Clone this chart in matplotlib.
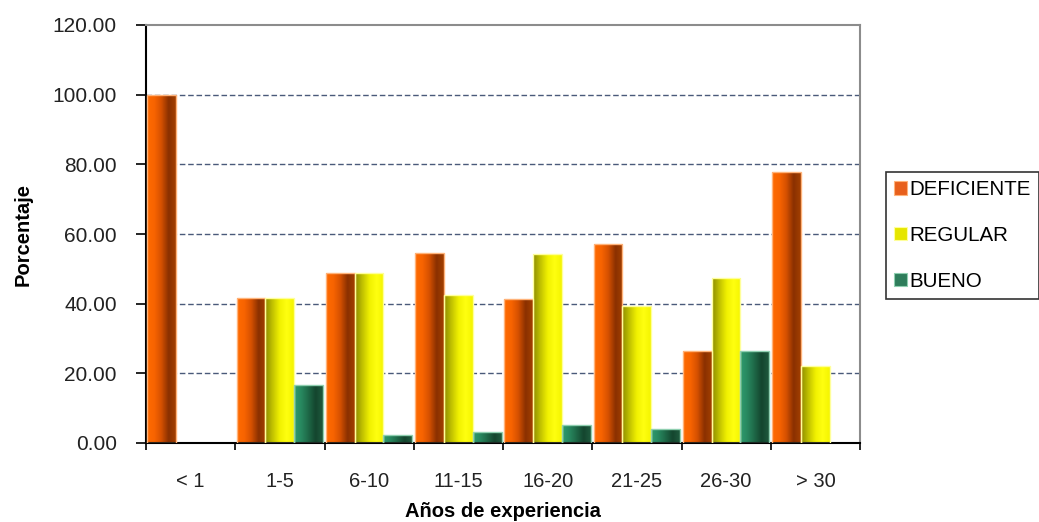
import numpy as np
import matplotlib
matplotlib.use("Agg")
import matplotlib.pyplot as plt
from matplotlib.colors import LinearSegmentedColormap
from matplotlib.patches import Patch

plt.rcParams['font.family'] = ['Liberation Sans', 'DejaVu Sans']

# percentages per experience group
categorias = ["< 1", "1-5", "6-10", "11-15", "16-20", "21-25", "26-30", "> 30"]
deficiente = [100.00, 41.67, 48.78, 54.55, 41.38, 57.14, 26.32, 77.78]
regular = [0.00, 41.67, 48.78, 42.42, 54.31, 39.29, 47.37, 22.22]
bueno = [0.00, 16.67, 2.44, 3.03, 5.17, 4.05, 26.32, 0.00]
series = ["DEFICIENTE", "REGULAR", "BUENO"]
yticks = [0, 20, 40, 60, 80, 100, 120]

# horizontal shading for each series (left -> right)
cmaps = [
    LinearSegmentedColormap.from_list("naranja", ["#ff6a00", "#f86400", "#d45000", "#8a3000", "#a34000"]),
    LinearSegmentedColormap.from_list("amarillo", ["#8c8c00", "#c0c000", "#f0f000", "#ffff10", "#f4f400"]),
    LinearSegmentedColormap.from_list("verde", ["#2e9c70", "#28885f", "#1e6847", "#14452e", "#1f5a3e"]),
]
bordes = ["#ffb37a", "#ffff9a", "#8fcfb0"]
solidos = ["#e8601c", "#e6e600", "#2e7d5b"]

fig = plt.figure(figsize=(10.39, 5.22), dpi=100)
ax = fig.add_axes([146 / 1039, 79 / 522, 714 / 1039, 418 / 522])

ancho = 0.323
grad = np.linspace(0, 1, 128).reshape(1, -1)
for k, valores in enumerate([deficiente, regular, bueno]):
    for i, v in enumerate(valores):
        if v <= 0:
            continue
        x0 = i + 0.015 + k * ancho
        barra = ax.bar(x0, v, ancho, align='edge', color='none',
                       edgecolor=bordes[k], linewidth=1.0, zorder=3)[0]
        img = ax.imshow(grad, cmap=cmaps[k], extent=(x0, x0 + ancho, 0, v),
                        aspect='auto', interpolation='bicubic', zorder=2)
        img.set_clip_path(barra)

ax.set_xlim(0, 8)
ax.set_ylim(0, 120)

# y axis
ax.set_yticks(yticks)
ax.set_yticklabels([f"{t:.2f}" for t in yticks])
ax.tick_params(axis='y', direction='out', length=7, width=1.2, pad=14,
               labelsize=15, labelcolor='#222222')

# x axis: ticks on category boundaries, labels centered
ax.set_xticks(np.arange(0, 9))
ax.set_xticklabels([])
ax.set_xticks(np.arange(8) + 0.5, minor=True)
ax.set_xticklabels(categorias, minor=True)
ax.tick_params(axis='x', which='major', direction='out', length=5, width=1.2)
ax.tick_params(axis='x', which='minor', length=0, pad=21, labelsize=14.5,
               labelcolor='#222222')

ax.yaxis.grid(True, color='#4a5a7a', linestyle=(0, (4, 2)), linewidth=1.0)
ax.get_ygridlines()[-1].set_visible(False)
ax.get_ygridlines()[0].set_visible(False)
ax.set_axisbelow(True)

for lado in ['left', 'bottom']:
    ax.spines[lado].set_color('black')
    ax.spines[lado].set_linewidth(1.5)
for lado in ['top', 'right']:
    ax.spines[lado].set_color('#8c8c8c')
    ax.spines[lado].set_linewidth(1.5)

ax.set_ylabel("Porcentaje", fontsize=14.5, fontweight='bold', labelpad=14)
ax.set_xlabel("Años de experiencia", fontsize=14.5, fontweight='bold', labelpad=8)

handles = [Patch(facecolor=c, edgecolor=b, linewidth=0.8) for c, b in zip(solidos, bordes)]
leg = fig.legend(handles, series, loc='upper left',
                 bbox_to_anchor=(886 / 1039, 1 - 172 / 522),
                 bbox_transform=fig.transFigure, borderaxespad=0,
                 fontsize=14.8, handlelength=0.6, handleheight=0.6,
                 handletextpad=0.15, labelspacing=1.3, borderpad=0.4,
                 fancybox=False, frameon=True)
leg.get_frame().set_edgecolor('black')
leg.get_frame().set_linewidth(1.2)

fig.savefig("out.png", dpi=100)
